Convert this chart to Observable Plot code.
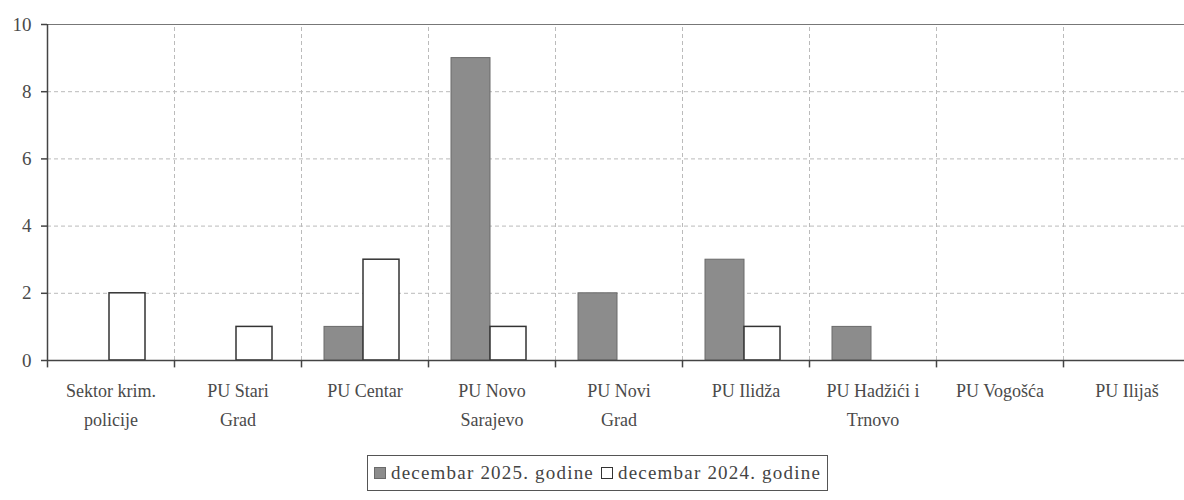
<!DOCTYPE html>
<html>
<head>
<meta charset="utf-8">
<script src="https://cdn.jsdelivr.net/npm/d3@7"></script>
<script src="https://cdn.jsdelivr.net/npm/@observablehq/plot@0.6"></script>
<style>
  body { margin: 0; background: #fff; font-family: "Liberation Serif", "Times New Roman", serif; }
  #chart { position: absolute; left: 0; top: 0; }
  #chart svg, #chart svg text, #chart svg tspan { font-family: "Liberation Serif", "Times New Roman", serif !important; }
  #legend {
    position: absolute; left: 367px; top: 455px; height: 36px; box-sizing: border-box;
    border: 1px solid #555; padding: 0 6px; display: flex; align-items: center; gap: 3px;
    font-size: 19px; color: #444; letter-spacing: 1.2px; white-space: nowrap;
  }
  .sw { display: inline-block; width: 12px; height: 12px; box-sizing: border-box; margin-right: 2px; }
</style>
</head>
<body>
<div id="chart"></div>
<div id="legend"></div>
<script>
const categories = ["Sektor krim.\npolicije", "PU Stari\nGrad", "PU Centar", "PU Novo\nSarajevo", "PU Novi\nGrad", "PU Ilidža", "PU Hadžići i\nTrnovo", "PU Vogošća", "PU Ilijaš"];
const seriesNames = ["decembar 2025. godine", "decembar 2024. godine"];
const dec2025 = [0, 0, 1, 9, 2, 3, 1, 0, 0];
const dec2024 = [2, 1, 3, 1, 0, 1, 0, 0, 0];
const yTicks = [0, 2, 4, 6, 8, 10];

const data = categories.map((c, i) => ({cat: c, v25: dec2025[i], v24: dec2024[i]}));

const W = 1184, H = 445;
const xRange = [47, 1190];
const bw = (xRange[1] - xRange[0]) / categories.length;
const font = "Liberation Serif";

const chart = Plot.plot({
  width: W, height: H,
  marginLeft: 47, marginRight: 0, marginTop: 24, marginBottom: 85,
  style: {fontFamily: font, color: "#4a4a4a", background: "white"},
  x: {domain: categories, range: xRange, padding: 0},
  y: {domain: [0, 10]},
  marks: [
    Plot.ruleY([2, 4, 6, 8], {stroke: "#bbb", strokeDasharray: "4,3", strokeWidth: 1}),
    Plot.ruleX(categories.slice(1), {dx: -bw / 2, y1: 0, y2: 10, stroke: "#bbb", strokeDasharray: "4,3", strokeWidth: 1}),
    Plot.ruleY([10], {stroke: "#777", strokeWidth: 1.2}),
    Plot.barY(data, {x: "cat", y: "v25", fill: "#8c8c8c", stroke: "#6a6a6a", strokeWidth: 1, insetLeft: 23, insetRight: 65}),
    Plot.barY(data, {x: "cat", y: "v24", fill: "white", stroke: "#333", strokeWidth: 1.5, insetLeft: 62, insetRight: 29, filter: d => d.v24 > 0}),
    Plot.ruleY([0], {stroke: "#444", strokeWidth: 1.5}),
    Plot.ruleX(categories, {dx: -bw / 2, y1: -0.22, y2: 0, stroke: "#444", strokeWidth: 1.5}),
    Plot.ruleX([categories[0]], {dx: -bw / 2, y1: 0, y2: 10, stroke: "#444", strokeWidth: 1.5}),
    Plot.axisY({ticks: yTicks, tickSize: 6, tickPadding: 10, fontSize: 19, fontFamily: font, stroke: "#444", strokeWidth: 1.5, tickFormat: d => d, label: null}),
    Plot.axisX({tickSize: 0, tickPadding: 16, fontSize: 18, fontFamily: font, lineHeight: 1.6, letterSpacing: "0.8px", label: null})
  ]
});
document.getElementById("chart").append(chart);

const legend = document.getElementById("legend");
legend.innerHTML =
  `<span class="sw" style="background:#8c8c8c;border:1px solid #6a6a6a"></span>${seriesNames[0]}` +
  `<span class="sw" style="background:#fff;border:1.5px solid #333;margin-left:4px"></span>${seriesNames[1]}`;
</script>
</body>
</html>
